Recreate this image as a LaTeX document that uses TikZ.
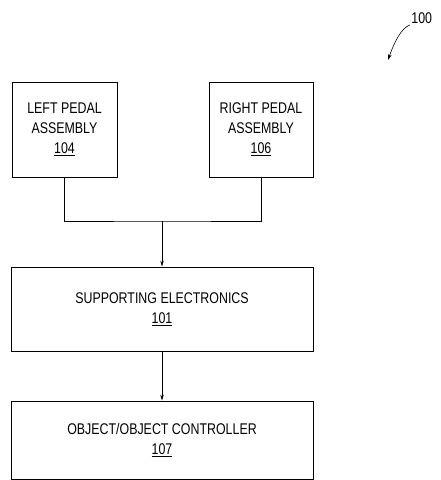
\documentclass[tikz,border=0pt]{standalone}
\usepackage{fontspec}
\setmainfont{Liberation Sans}[FakeStretch=0.8]
\usetikzlibrary{arrows.meta}

\begin{document}
\begin{tikzpicture}[x=1pt, y=1pt, line width=0.8pt,
	block/.style={draw, align=center, inner sep=0pt, font=\fontsize{15.5}{20}\selectfont},
	flow/.style={-{Stealth[length=6pt, width=3.5pt]}}]
	\useasboundingbox (0, 0) rectangle (441, 480);
	\node [block, minimum width=105, minimum height=95] (left) at (64.5, 350.5) {LEFT PEDAL\\ASSEMBLY\\\underline{104}};
	\node [block, minimum width=104, minimum height=95] (right) at (261, 350.5) {RIGHT PEDAL\\ASSEMBLY\\\underline{106}};
	\node [block, minimum width=302, minimum height=84] (supp) at (162, 171) {SUPPORTING ELECTRONICS\\\underline{101}};
	\node [block, minimum width=302, minimum height=78] (obj) at (162, 40) {OBJECT/OBJECT CONTROLLER\\\underline{107}};
	\coordinate (join) at (162, 259);
	\draw (left.south) |- (join) -| (right.south);
	\draw [flow] (join) -- (supp.north);
	\draw [flow] (supp.south) -- (obj.north);
	\node [font=\fontsize{15.5}{18}\selectfont, anchor=west, inner sep=1pt] (ref) at (410, 462) {100};
	\draw [flow, line width=0.6pt] (ref.south west) .. controls (401, 452) and (394, 437) .. (388, 420);
\end{tikzpicture}
\end{document}
